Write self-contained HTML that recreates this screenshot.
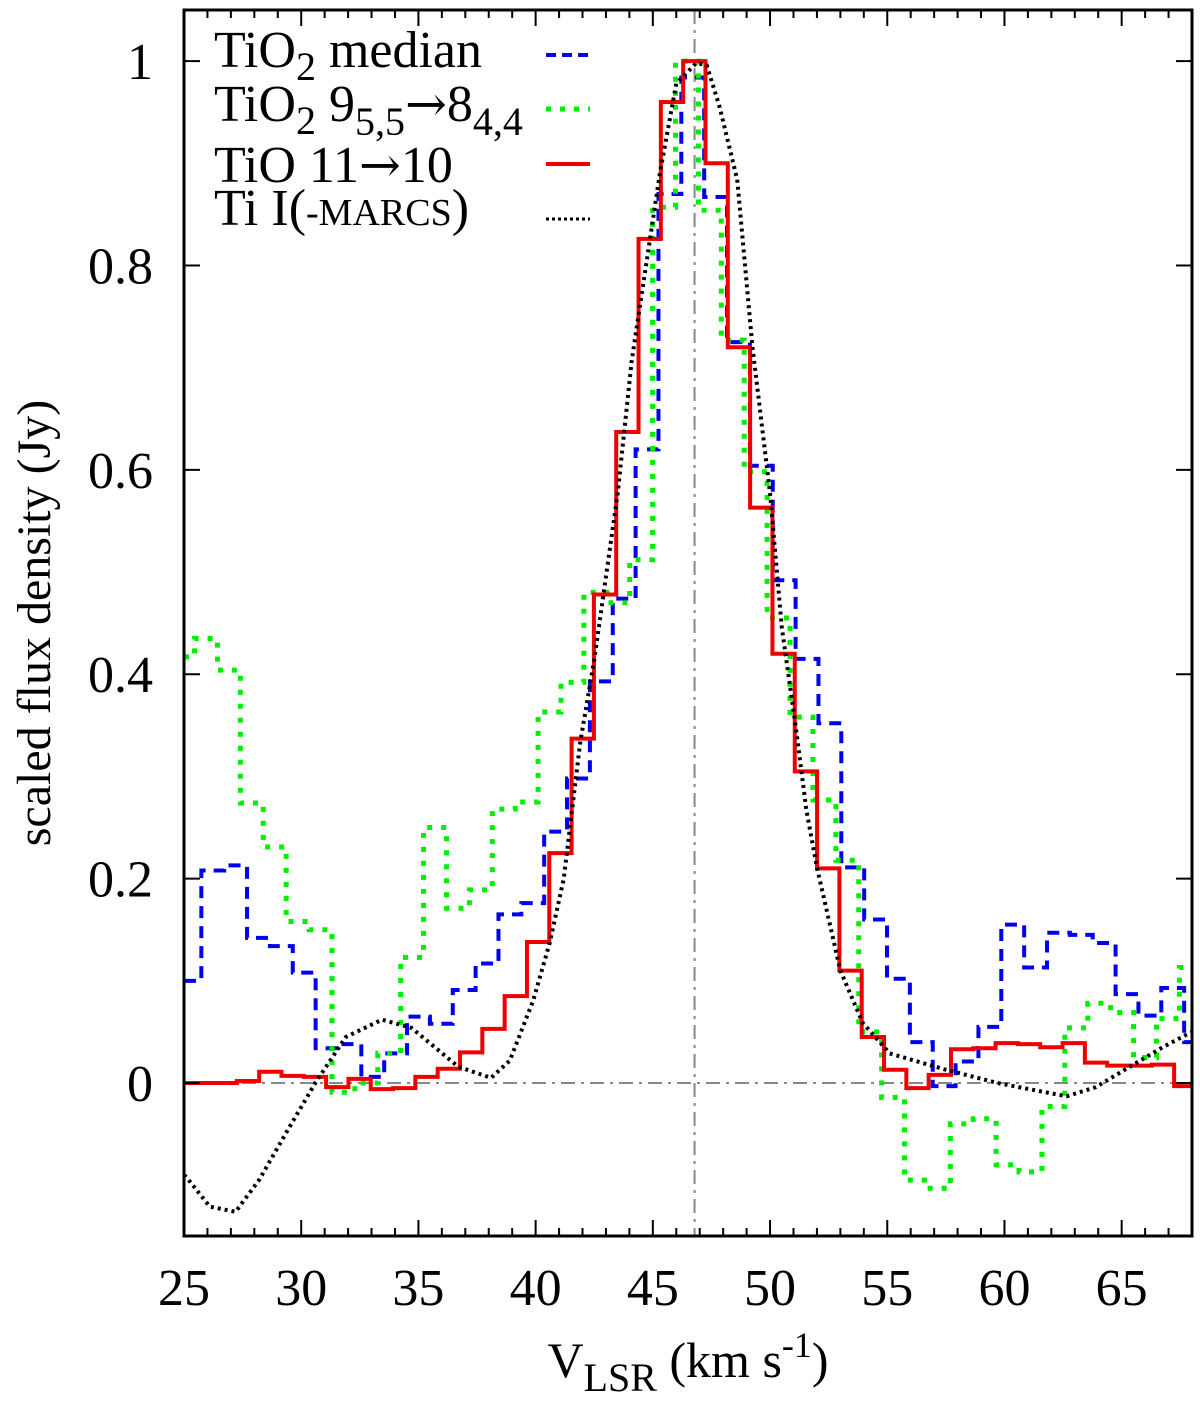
<!DOCTYPE html>
<html><head><meta charset="utf-8"><style>
html,body{margin:0;padding:0;background:#fff}
svg{display:block}
text{font-family:"Liberation Serif",serif;fill:#000}
.ar{font-family:"DejaVu Serif",serif}
</style></head><body>
<svg id="chart" width="1200" height="1401" viewBox="0 0 1200 1401" xmlns="http://www.w3.org/2000/svg">
<defs><clipPath id="clip"><rect x="184" y="10" width="1008" height="1226"/></clipPath></defs>
<g id="grid"></g>
<g id="series" clip-path="url(#clip)"></g>
<rect x="184" y="10" width="1008" height="1226" fill="none" stroke="#000" stroke-width="3"/>
<g id="ticks"></g>
<text transform="translate(50,623) rotate(-90)" text-anchor="middle" font-size="48">scaled flux density (Jy)</text>
<text x="688" y="1377" text-anchor="middle" font-size="50">V<tspan font-size="40" dy="14">LSR</tspan><tspan dy="-14"> (km s</tspan><tspan font-size="36" dy="-20">-1</tspan><tspan dy="20">)</tspan></text>
<g>
<text x="214" y="67" font-size="52">TiO<tspan font-size="40" dy="13">2</tspan><tspan dy="-13"> median</tspan></text>
<text x="214" y="121" font-size="52">TiO<tspan font-size="40" dy="13">2</tspan><tspan dy="-13"> 9</tspan><tspan font-size="40" dy="14">5,5</tspan><tspan dy="-14" class="ar" font-size="50">→</tspan><tspan>8</tspan><tspan font-size="40" dy="14">4,4</tspan></text>
<text x="214" y="182" font-size="52">TiO 11<tspan class="ar" font-size="50">→</tspan>10</text>
<text x="214" y="225" font-size="52">Ti I(<tspan font-size="38">-MARCS</tspan>)</text>
<line x1="546" y1="55" x2="590" y2="55" stroke="#0000ee" stroke-width="4" stroke-dasharray="10 6"/>
<line x1="546" y1="109" x2="590" y2="109" stroke="#00ee00" stroke-width="5" stroke-dasharray="5 9"/>
<line x1="546" y1="164" x2="590" y2="164" stroke="#ee0000" stroke-width="4"/>
<line x1="546" y1="219" x2="590" y2="219" stroke="#000" stroke-width="3" stroke-dasharray="3 3"/>
</g>
</svg>
<script>
const xTicks=[25,30,35,40,45,50,55,60,65];
const yTicks=[0,0.2,0.4,0.6,0.8,1];
const yTickLabels=["0","0.2","0.4","0.6","0.8","1"];
const vSys=46.78;
// TiO2 median (blue), bins start 25.74, width 0.975
const bluePre=0.1;
const blueStart=25.74, blueWidth=0.975;
const blueVals=[0.208,0.213,0.142,0.134,0.108,0.034,0.038,0.006,0.029,0.065,0.058,0.091,0.117,0.165,0.176,0.246,0.298,0.393,0.474,0.62,0.87,0.984,0.867,0.725,0.604,0.492,0.415,0.352,0.211,0.16,0.102,0.04,-0.003,0.021,0.055,0.155,0.113,0.147,0.145,0.137,0.087,0.066,0.093,0.04];
// TiO2 9->8 (green)
const greenPre=0.417;
const greenStart=25.45, greenWidth=0.977;
const greenVals=[0.435,0.404,0.274,0.231,0.158,0.15,-0.009,0.0,0.029,0.123,0.25,0.171,0.189,0.268,0.275,0.363,0.392,0.48,0.47,0.512,0.857,1.0,0.854,0.727,0.598,0.455,0.358,0.277,0.218,0.05,-0.014,-0.095,-0.103,-0.04,-0.035,-0.08,-0.087,-0.023,0.054,0.078,0.069,0.025,0.063,0.113];
// TiO 11->10 (red)
const redPre=0;
const redStart=25.35, redWidth=0.952;
const redVals=[0,0,0.002,0.011,0.007,0.006,-0.004,0.004,-0.006,-0.005,0.006,0.014,0.03,0.053,0.085,0.138,0.225,0.337,0.478,0.637,0.826,0.96,1.0,0.9,0.72,0.563,0.42,0.305,0.21,0.11,0.045,0.013,-0.005,0.008,0.033,0.034,0.039,0.038,0.035,0.039,0.02,0.017,0.017,0.018,-0.003];
// Ti I model (black dotted)
const blackV=[25,25.1,26.1,27.2,28.2,29.35,30.6,31.9,33.45,34.7,36.7,38.1,38.9,39.9,40.6,41.2,41.9,42.5,43.5,44.1,45.3,46.0,46.85,47.3,47.85,48.6,49.25,50.0,50.5,51.1,51.55,52.0,53.0,53.95,55.1,57.5,59.7,62.65,63.9,65.35,66.75,67.9,68];
const blackF=[-0.09,-0.092,-0.121,-0.126,-0.095,-0.049,0,0.045,0.062,0.054,0.016,0.005,0.022,0.081,0.137,0.2,0.333,0.414,0.577,0.707,0.89,0.978,0.998,0.996,0.955,0.884,0.72,0.577,0.446,0.348,0.267,0.211,0.11,0.059,0.029,0.013,0,-0.013,-0.004,0.016,0.035,0.049,0.05];

const X0=184,X1=1192,Y0=10,Y1=1236,XMIN=25,XMAX=68,YMIN=-0.1497,YMAX=1.05;
const sx=v=>X0+(v-XMIN)/(XMAX-XMIN)*(X1-X0);
const sy=v=>Y1-(v-YMIN)/(YMAX-YMIN)*(Y1-Y0);
const NS="http://www.w3.org/2000/svg";
function mk(tag,attrs,parent){const e=document.createElementNS(NS,tag);for(const k in attrs)e.setAttribute(k,attrs[k]);parent.appendChild(e);return e;}
const grid=document.getElementById('grid'),ser=document.getElementById('series'),tk=document.getElementById('ticks');

let l1=mk('line',{x1:X0,x2:X1,y1:sy(0),y2:sy(0),stroke:'#888','stroke-width':2,'stroke-dasharray':'14 6 3 6'},grid);


let l2=mk('line',{x1:sx(vSys),x2:sx(vSys),y1:Y0,y2:Y1,stroke:'#888','stroke-width':2,'stroke-dasharray':'14 6 3 6'},grid);



function stepPath(pre,start,w,vals){
  let d='M'+sx(XMIN)+','+sy(pre)+' H'+sx(start);
  for(let k=0;k<vals.length;k++){
    d+=' V'+sy(vals[k])+' H'+sx(Math.min(start+w*(k+1),XMAX+0.5));
  }
  return d;
}
let pb=mk('path',{d:stepPath(bluePre,blueStart,blueWidth,blueVals),fill:'none',stroke:'#0000ee','stroke-width':4,'stroke-dasharray':'12 8'},ser);


let pg=mk('path',{d:stepPath(greenPre,greenStart,greenWidth,greenVals),fill:'none',stroke:'#00ee00','stroke-width':5,'stroke-dasharray':'5 9'},ser);


let pr=mk('path',{d:stepPath(redPre,redStart,redWidth,redVals),fill:'none',stroke:'#ee0000','stroke-width':4},ser);


let dk='M'+blackV.map((v,i)=>sx(v)+','+sy(blackF[i])).join(' L');
let pk=mk('path',{d:dk,fill:'none',stroke:'#000','stroke-width':4,'stroke-dasharray':'3 4','stroke-linejoin':'round'},ser);



for(let v=XMIN;v<=XMAX;v++){
  const major=xTicks.includes(v);const L=major?16:8;
  mk('line',{x1:sx(v),x2:sx(v),y1:Y1,y2:Y1-L,stroke:'#000','stroke-width':2},tk);
  mk('line',{x1:sx(v),x2:sx(v),y1:Y0,y2:Y0+L,stroke:'#000','stroke-width':2},tk);
}
xTicks.forEach(v=>{
  const t=mk('text',{x:sx(v),y:1305,'text-anchor':'middle','font-size':52},tk);
  t.textContent=String(v);
  
  
});
[-0.2,...yTicks].forEach(v=>{
  if(v<YMIN)return;
  mk('line',{x1:X0,x2:X0+16,y1:sy(v),y2:sy(v),stroke:'#000','stroke-width':2},tk);
  mk('line',{x1:X1,x2:X1-16,y1:sy(v),y2:sy(v),stroke:'#000','stroke-width':2},tk);
});
yTicks.forEach((v,i)=>{
  const t=mk('text',{x:153,y:sy(v)+18,'text-anchor':'end','font-size':52},tk);
  t.textContent=yTickLabels[i];
  
  
});
</script>
</body></html>
